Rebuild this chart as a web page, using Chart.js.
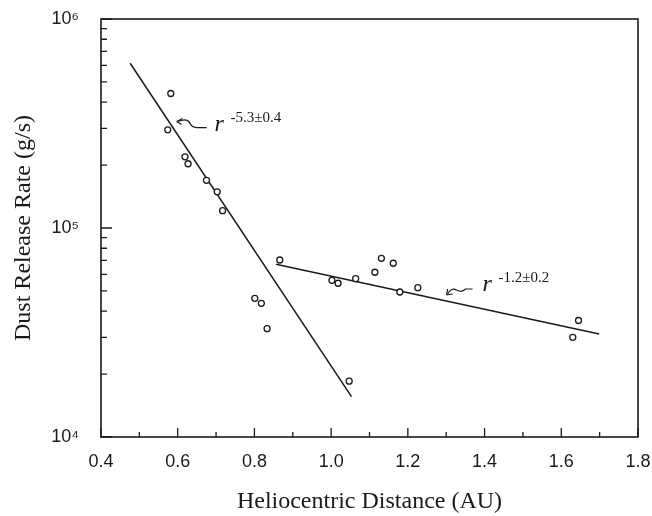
<!DOCTYPE html>
<html>
<head>
<meta charset="utf-8">
<script src="https://cdn.jsdelivr.net/npm/chart.js@4.4.1/dist/chart.umd.min.js"></script>
<style>
html,body{margin:0;padding:0;background:#fff;}
</style>
</head>
<body>
<canvas id="dustChart" width="652" height="516"></canvas>
<script>
// measured points (AU, g/s)
const distAU = [0.582,0.574,0.619,0.627,0.675,0.703,0.717,0.801,0.818,0.833,1.047,
  0.866,1.002,1.018,1.064,1.114,1.131,1.162,1.179,1.226,1.645,1.630];
const dustRate = [4.40e5,2.95e5,2.19e5,2.03e5,1.69e5,1.49e5,1.21e5,4.61e4,4.36e4,3.30e4,1.85e4,
  7.03e4,5.62e4,5.44e4,5.72e4,6.14e4,7.16e4,6.78e4,4.94e4,5.18e4,3.61e4,3.00e4];

// the two fitted lines
const steepX = [0.476, 1.053];
const steepY = [6.14e5, 1.56e4];
const flatX = [0.856, 1.699];
const flatY = [6.70e4, 3.11e4];

const yTicks = [1e4, 1e5, 1e6];
const yTickText = ['10\u2074', '10\u2075', '10\u2076'];
const xMajor = [0.4,0.6,0.8,1.0,1.2,1.4,1.6,1.8];
const xMinor = [0.5,0.7,0.9,1.1,1.3,1.5,1.7];
const yMinor = [2e4,3e4,4e4,5e4,6e4,7e4,8e4,9e4,2e5,3e5,4e5,5e5,6e5,7e5,8e5,9e5];

const notes = [
  {x: 0.597, y: 3.23e5, pow: '-5.3\u00b10.4', kind: 1},
  {x: 1.301, y: 4.78e4, pow: '-1.2\u00b10.2', kind: 2}
];

function pts(xs, ys) {
  return xs.map((v, i) => ({x: v, y: ys[i]}));
}

function noPad(s) {
  s.paddingTop = 0;
  s.paddingBottom = 0;
  s.paddingLeft = 0;
  s.paddingRight = 0;
}

const inkClr = '#1a1a1a';

const framePlug = {
  id: 'framePlug',
  afterDatasetsDraw(chart) {
    const c = chart.ctx, a = chart.chartArea;
    const xs = chart.scales.x, ys = chart.scales.y;
    c.save();
    c.strokeStyle = inkClr;
    c.lineWidth = 1.6;
    c.strokeRect(a.left, a.top, a.right - a.left, a.bottom - a.top);
    c.lineWidth = 1.3;
    c.beginPath();
    xMajor.forEach(v => { const p = xs.getPixelForValue(v); c.moveTo(p, a.bottom); c.lineTo(p, a.bottom - 9); });
    xMinor.forEach(v => { const p = xs.getPixelForValue(v); c.moveTo(p, a.bottom); c.lineTo(p, a.bottom - 5); });
    yTicks.forEach(v => { const p = ys.getPixelForValue(v); c.moveTo(a.left, p); c.lineTo(a.left + 11, p); });
    yMinor.forEach(v => { const p = ys.getPixelForValue(v); c.moveTo(a.left, p); c.lineTo(a.left + 6, p); });
    c.stroke();

    // annotations
    notes.forEach(n => {
      const tx = xs.getPixelForValue(n.x), ty = ys.getPixelForValue(n.y);
      c.lineWidth = 1.2;
      c.beginPath();
      if (n.kind === 1) {
        c.moveTo(tx + 1, ty);
        c.quadraticCurveTo(tx + 10, ty - 4, tx + 13, ty + 1);
        c.quadraticCurveTo(tx + 15, ty + 6, tx + 20, ty + 6);
        c.lineTo(tx + 30, ty + 6);
        c.stroke();
        c.beginPath();
        c.moveTo(tx, ty);
        c.lineTo(tx + 6, ty - 3);
        c.moveTo(tx, ty);
        c.lineTo(tx + 5, ty + 3);
        c.stroke();
      } else {
        c.moveTo(tx + 1, ty - 1);
        c.quadraticCurveTo(tx + 5, ty - 8, tx + 10, ty - 5);
        c.quadraticCurveTo(tx + 15, ty - 2, tx + 19, ty - 6);
        c.lineTo(tx + 26, ty - 6);
        c.stroke();
        c.beginPath();
        c.moveTo(tx, ty);
        c.lineTo(tx + 1, ty - 6);
        c.moveTo(tx, ty);
        c.lineTo(tx + 6, ty - 1);
        c.stroke();
      }
      const rx = n.kind === 1 ? tx + 38 : tx + 36;
      const rb = n.kind === 1 ? ty + 9 : ty - 4;
      c.fillStyle = inkClr;
      c.font = 'italic 24px "Liberation Serif"';
      c.textBaseline = 'alphabetic';
      c.fillText('r', rx, rb);
      c.font = '15px "Liberation Serif"';
      c.fillText(n.pow, rx + 16, rb - 9);
    });
    c.restore();
  }
};

new Chart(document.getElementById('dustChart'), {
  type: 'scatter',
  data: {
    datasets: [
      {
        data: pts(distAU, dustRate),
        pointStyle: 'circle',
        pointRadius: 3,
        borderWidth: 1.3,
        borderColor: inkClr,
        backgroundColor: '#fff'
      },
      {
        data: pts(steepX, steepY),
        showLine: true,
        pointRadius: 0,
        borderWidth: 1.5,
        borderColor: inkClr
      },
      {
        data: pts(flatX, flatY),
        showLine: true,
        pointRadius: 0,
        borderWidth: 1.5,
        borderColor: inkClr
      }
    ]
  },
  options: {
    responsive: false,
    animation: false,
    devicePixelRatio: 1,
    layout: {padding: {left: 9, right: 14, top: 19, bottom: 0}},
    plugins: {legend: {display: false}, tooltip: {enabled: false}},
    scales: {
      x: {
        type: 'linear',
        min: 0.4,
        max: 1.8,
        afterBuildTicks(s) { s.ticks = xMajor.map(v => ({value: v})); },
        afterFit(s) { s.height = 79; noPad(s); },
        grid: {display: false, drawTicks: false},
        border: {display: false},
        ticks: {
          padding: 14,
          color: inkClr,
          font: {family: '"Liberation Sans", Arial', size: 18},
          callback: v => v.toFixed(1)
        },
        title: {
          display: true,
          text: 'Heliocentric Distance (AU)',
          color: inkClr,
          font: {family: '"Liberation Serif", serif', size: 24},
          padding: {top: 4, bottom: 0}
        }
      },
      y: {
        type: 'logarithmic',
        min: 1e4,
        max: 1e6,
        afterBuildTicks(s) { s.ticks = yTicks.map(v => ({value: v})); },
        afterFit(s) { s.width = 92; noPad(s); },
        grid: {display: false, drawTicks: false},
        border: {display: false},
        ticks: {
          padding: 22,
          color: inkClr,
          font: {family: '"Liberation Sans", Arial', size: 18},
          callback: v => yTickText[yTicks.indexOf(v)]
        },
        title: {
          display: true,
          text: 'Dust Release Rate (g/s)',
          color: inkClr,
          font: {family: '"Liberation Serif", serif', size: 24},
          padding: {top: 0, bottom: 0}
        }
      }
    }
  },
  plugins: [framePlug]
});
</script>
</body>
</html>
